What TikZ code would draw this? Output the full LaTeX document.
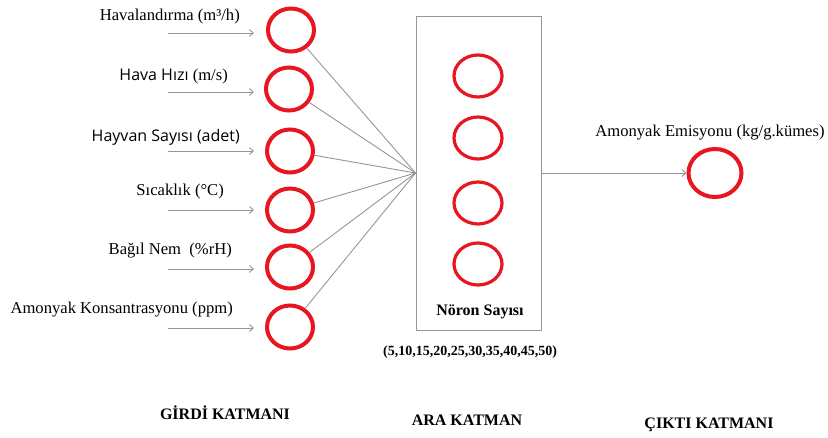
\documentclass[tikz,border=0pt]{standalone}
\usepackage{fontspec}
\setmainfont{Liberation Serif}
\newfontfamily\sansf{Open Sans}
\usetikzlibrary{shapes.geometric,arrows.meta}
\definecolor{nred}{RGB}{232,22,32}
\definecolor{lgray}{RGB}{150,150,150}
\begin{document}
\begin{tikzpicture}[x=1pt,y=-1pt,
  inn/.style={ellipse, draw=nred, line width=4pt, minimum width=46pt, minimum height=43pt, inner sep=0pt},
  hid/.style={ellipse, draw=nred, line width=3.2pt, minimum width=48pt, minimum height=42pt, inner sep=0pt},
  outc/.style={ellipse, draw=nred, line width=4pt, minimum width=53pt, minimum height=48pt, inner sep=0pt},
  lbl/.style={anchor=east, inner sep=0pt, font=\fontsize{16.6}{18}\selectfont},
  arr/.style={draw=lgray, line width=0.9pt, -{Straight Barb[length=4pt,width=7pt]}},
  con/.style={draw=lgray, line width=0.9pt},
  layer/.style={inner sep=0pt, font=\fontsize{16}{18}\selectfont\bfseries}]
\useasboundingbox (0,0) rectangle (828,437);

% input circles
\node[inn] (i1) at (291,30) {};
\node[inn] (i2) at (289,89) {};
\node[inn] (i3) at (290,151) {};
\node[inn] (i4) at (290,210) {};
\node[inn] (i5) at (290,267) {};
\node[inn] (i6) at (290,327) {};

% input labels
\node[lbl] (l1) at (240,17) {Havalandırma (m³/h)};
\node[lbl] (l2) at (228,77) {{\sansf\fontsize{16}{18}\selectfont Hava Hızı} (m/s)};
\node[lbl] (l3) at (240,137) {\sansf\fontsize{16}{18}\selectfont Hayvan Sayısı (adet)};
\node[lbl] (l4) at (224,192) {Sıcaklık (°C)};
\node[lbl] (l5) at (232,251) {Bağıl Nem\ \ (\%rH)};
\node[lbl] (l6) at (233,310) {Amonyak Konsantrasyonu (ppm)};

% input arrows
\foreach \k/\y in {1/33,2/92,3/151,4/210,5/269,6/328}{
  \coordinate (s\k) at (168,\y);
  \coordinate (e\k) at (254,\y);
  \draw[arr] (s\k) -- (e\k);
}

% hidden layer box
\node[draw=lgray, line width=1pt, minimum width=125pt, minimum height=314pt, inner sep=0pt] (box) at (478.5,173) {};
\coordinate (cv) at (box.west);
\foreach \k in {1,...,6}{ \draw[con] (i\k) -- (cv); }

\node[hid] (h1) at (478,76) {};
\node[hid] (h2) at (478,138) {};
\node[hid] (h3) at (478,203) {};
\node[hid] (h4) at (478,264) {};
\node[layer] (ns) at (480,312) {Nöron Sayısı};
\node[inner sep=0pt, font=\fontsize{14}{16}\selectfont\bfseries] (nv) at (470,352) {(5,10,15,20,25,30,35,40,45,50)};

% output
\node[outc] (o1) at (715,173) {};
\draw[arr] (box.east) -- (o1);
\node[inner sep=0pt, font=\fontsize{16.6}{18}\selectfont] (ol) at (710,133) {Amonyak Emisyonu (kg/g.kümes)};

% layer titles
\node[layer] (t1) at (225,413) {GİRDİ KATMANI};
\node[layer] (t2) at (467,420) {ARA KATMAN};
\node[layer] (t3) at (709,425) {ÇIKTI KATMANI};
\end{tikzpicture}
\end{document}
